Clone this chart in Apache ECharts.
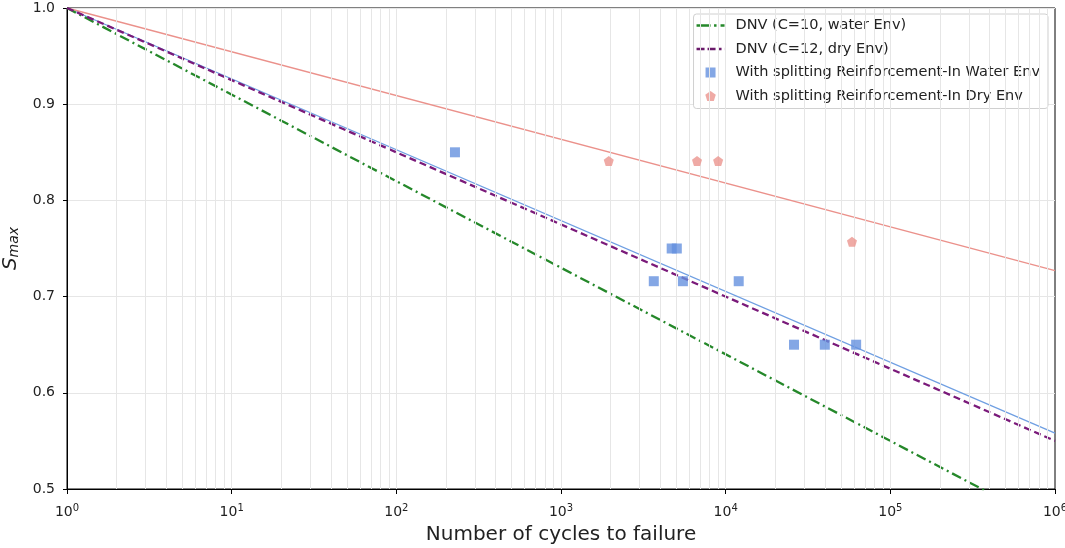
<!DOCTYPE html>
<html>
<head>
<meta charset="utf-8">
<script src="https://cdn.jsdelivr.net/npm/echarts@6/dist/echarts.min.js"></script>
<style>
  html, body { margin: 0; padding: 0; background: #fff; }
  #main { width: 1065px; height: 548px; }
</style>
</head>
<body>
<div id="main"></div>
<script>
// decades on the x axis
const xDecades = [1, 10, 100, 1000, 10000, 100000, 1000000];
const yTicks = [0.5, 0.6, 0.7, 0.8, 0.9, 1.0];

// design / fitted lines, endpoints
const dnvWaterLine = [[1, 1.0], [1000000, 0.46]];
const dnvDryLine = [[1, 1.0], [1000000, 0.55]];
const fitWaterLine = [[1, 1.0], [1000000, 0.558]];
const fitDryLine = [[1, 1.0], [1000000, 0.727]];

// test results
const waterCycles = [227, 4700, 5050, 3660, 5500, 12000, 26000, 40000, 62000];
const waterSmax = [0.85, 0.75, 0.75, 0.716, 0.716, 0.716, 0.65, 0.65, 0.65];
const dryCycles = [1950, 6700, 9000, 58500];
const drySmax = [0.841, 0.841, 0.841, 0.757];

const font = 'DejaVu Sans';
const pentagon = 'path://M50,0L97.6,34.5L79.4,90.5L20.6,90.5L2.4,34.5Z';
const square = 'path://M0,0L10,0L10,10L0,10Z';
// legend swatches drawn as dashed strokes
const greenIcon = 'path://M0,0L14,0L14,2.6L0,2.6Z M17.5,0L20,0L20,2.6L17.5,2.6Z M24,0L28,0L28,2.6L24,2.6Z';
const purpleIcon = 'path://M0,0L8,0L8,2.6L0,2.6Z M11,0L19,0L19,2.6L11,2.6Z M22.5,0L25,0L25,2.6L22.5,2.6Z M27.9,0L28,0L28,2.6L27.9,2.6Z';

const greenDash = [10, 4, 2, 4];
const purpleDash = [7, 4];

// minor grid / tick positions 2..9 in each decade
let minorVals = [];
for (let i = 0; i < xDecades.length - 1; i++) {
  for (let k = 2; k <= 9; k++) minorVals.push(xDecades[i] * k);
}
let minorGrid = minorVals.map(v => ({ xAxis: v }));
let majorGrid = xDecades.slice(1, -1).map(v => ({ xAxis: v }));
// short outward minor tick marks below the x axis
let minorTicks = minorVals.map(v => [{ coord: [v, 0.5] }, { coord: [v, 0.4968] }]);

let option = {
  animation: false,
  backgroundColor: '#fff',
  textStyle: { fontFamily: font },
  grid: {
    left: 67, right: 10, top: 8, bottom: 59,
    containLabel: false,
    outerBoundsMode: 'none',
    show: true, borderColor: '#000', borderWidth: 1
  },
  legend: {
    orient: 'vertical',
    right: 17,
    top: 14,
    itemWidth: 28,
    itemHeight: 10,
    itemGap: 8.5,
    padding: [4, 8, 5, 3],
    borderColor: '#d0d0d0',
    borderWidth: 1,
    borderRadius: 3,
    backgroundColor: '#fff',
    textStyle: { fontFamily: font, fontSize: 14.5, color: '#222', padding: [0, 0, 0, 6] },
    data: [
      { name: 'DNV (C=10, water Env)', icon: greenIcon, itemStyle: { color: '#25882a', borderWidth: 0 } },
      { name: 'DNV (C=12, dry Env)', icon: purpleIcon, itemStyle: { color: '#6a1a6a', borderWidth: 0 } },
      { name: 'With splitting Reinforcement-In Water Env', icon: square, itemStyle: { borderWidth: 0 } },
      { name: 'With splitting Reinforcement-In Dry Env', icon: pentagon, itemStyle: { borderWidth: 0 } }
    ]
  },
  xAxis: {
    type: 'log',
    logBase: 10,
    min: 1,
    max: 1000000,
    name: 'Number of cycles to failure',
    nameLocation: 'middle',
    nameGap: 36,
    nameTextStyle: { fontFamily: font, fontSize: 20, color: '#222' },
    axisLine: { lineStyle: { color: '#000' } },
    axisTick: { show: true, inside: false, length: 5, lineStyle: { color: '#000' } },
    splitLine: { show: false },
    axisLabel: {
      margin: 14,
      color: '#222',
      formatter: v => '{b|10}{s|' + Math.round(Math.log10(v)) + '}',
      rich: {
        b: { fontFamily: font, fontSize: 14, color: '#222' },
        s: { fontFamily: font, fontSize: 10, color: '#222', padding: [0, 0, 8, 0] }
      }
    }
  },
  yAxis: {
    type: 'value',
    min: 0.5,
    max: 1.0,
    interval: 0.1,
    name: '{a|S}{b|max}',
    nameLocation: 'middle',
    nameGap: 46,
    nameTextStyle: {
      rich: {
        a: { fontFamily: font, fontSize: 20, fontStyle: 'italic', color: '#222' },
        b: { fontFamily: font, fontSize: 14, fontStyle: 'italic', color: '#222', padding: [7, 0, 0, 0] }
      }
    },
    axisLine: { show: true, lineStyle: { color: '#000' } },
    axisTick: { show: true, length: 4, lineStyle: { color: '#000' } },
    splitLine: { show: true, lineStyle: { color: '#e6e6e6', width: 1 } },
    axisLabel: {
      color: '#222', fontFamily: font, fontSize: 14, margin: 12,
      formatter: v => v.toFixed(1)
    }
  },
  series: [
    {
      name: 'grid',
      type: 'line',
      data: [],
      silent: true,
      markLine: {
        silent: true,
        symbol: 'none',
        label: { show: false },
        lineStyle: { color: '#e6e6e6', width: 1, type: 'solid' },
        data: minorGrid.concat(majorGrid)
      }
    },
    {
      name: 'minor ticks',
      type: 'line',
      data: [],
      silent: true,
      clip: false,
      markLine: {
        silent: true,
        symbol: 'none',
        label: { show: false },
        lineStyle: { color: '#000', width: 1, type: 'solid' },
        data: minorTicks
      }
    },
    {
      name: 'fit water',
      type: 'line',
      data: fitWaterLine,
      symbol: 'none',
      z: 3,
      lineStyle: { color: '#6f9fe2', width: 1.3 }
    },
    {
      name: 'fit dry',
      type: 'line',
      data: fitDryLine,
      symbol: 'none',
      z: 3,
      lineStyle: { color: '#eb918b', width: 1.3 }
    },
    {
      name: 'DNV (C=10, water Env)',
      type: 'line',
      data: dnvWaterLine,
      symbol: 'none',
      z: 4,
      itemStyle: { color: '#25882a' },
      lineStyle: { color: '#25882a', width: 2.3, type: greenDash }
    },
    {
      name: 'DNV (C=12, dry Env)',
      type: 'line',
      data: dnvDryLine,
      symbol: 'none',
      z: 4,
      itemStyle: { color: '#7a1a7a' },
      lineStyle: { color: '#7a1a7a', width: 2.3, type: purpleDash }
    },
    {
      name: 'With splitting Reinforcement-In Water Env',
      type: 'scatter',
      symbol: square,
      symbolSize: 10,
      z: 5,
      itemStyle: { color: '#6591de' },
      data: waterCycles.map((c, i) => [c, waterSmax[i]])
    },
    {
      name: 'With splitting Reinforcement-In Dry Env',
      type: 'scatter',
      symbol: pentagon,
      symbolSize: 10,
      z: 5,
      itemStyle: { color: '#eb958f' },
      data: dryCycles.map((c, i) => [c, drySmax[i]])
    }
  ]
};

let myChart = echarts.init(document.getElementById('main'));
myChart.setOption(option);
window.onresize = myChart.resize;
</script>
</body>
</html>
